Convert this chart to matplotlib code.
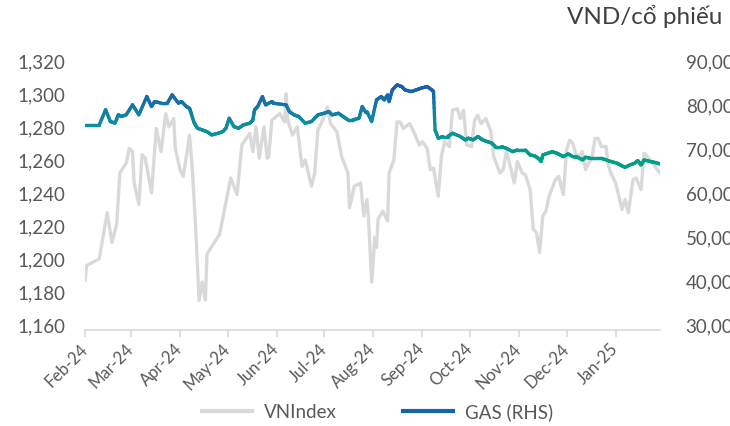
import numpy as np
import pandas as pd
import matplotlib
matplotlib.use('Agg')
import matplotlib.pyplot as plt
import matplotlib.dates as mdates
import matplotlib.transforms as mtrans
from matplotlib.collections import LineCollection
from matplotlib.colors import LinearSegmentedColormap
from matplotlib.lines import Line2D
from matplotlib.ticker import FuncFormatter

plt.rcParams['font.family'] = ['Lato', 'DejaVu Sans']

# ==========================================
# DATA (doc tu hinh)
# ==========================================
vn_dates = ['2024-02-01', '2024-02-02', '2024-02-10', '2024-02-15', '2024-02-18', '2024-02-21',
            '2024-02-23', '2024-02-27', '2024-02-29', '2024-03-02', '2024-03-03', '2024-03-06',
            '2024-03-08', '2024-03-10', '2024-03-14', '2024-03-17', '2024-03-20', '2024-03-23',
            '2024-03-25', '2024-03-28', '2024-03-29', '2024-04-01', '2024-04-03', '2024-04-05',
            '2024-04-07', '2024-04-09', '2024-04-11', '2024-04-13', '2024-04-15', '2024-04-17',
            '2024-04-18', '2024-04-22', '2024-04-26', '2024-05-03', '2024-05-07', '2024-05-10',
            '2024-05-15', '2024-05-17', '2024-05-19', '2024-05-21', '2024-05-24', '2024-05-26',
            '2024-05-27', '2024-05-29', '2024-06-03', '2024-06-06', '2024-06-07', '2024-06-08',
            '2024-06-11', '2024-06-14', '2024-06-17', '2024-06-19', '2024-06-23', '2024-06-25',
            '2024-06-27', '2024-06-30', '2024-07-03', '2024-07-05', '2024-07-09', '2024-07-12',
            '2024-07-16', '2024-07-17', '2024-07-20', '2024-07-24', '2024-07-26', '2024-07-28',
            '2024-07-29', '2024-07-31', '2024-08-02', '2024-08-03', '2024-08-04', '2024-08-07',
            '2024-08-10', '2024-08-11', '2024-08-14', '2024-08-16', '2024-08-18', '2024-08-20',
            '2024-08-24', '2024-08-27', '2024-08-30', '2024-09-01', '2024-09-04', '2024-09-06',
            '2024-09-08', '2024-09-11', '2024-09-13', '2024-09-15', '2024-09-18', '2024-09-20',
            '2024-09-23', '2024-09-25', '2024-09-27', '2024-09-29', '2024-10-02', '2024-10-04',
            '2024-10-06', '2024-10-08', '2024-10-11', '2024-10-14', '2024-10-16', '2024-10-20',
            '2024-10-22', '2024-10-24', '2024-10-26', '2024-10-29', '2024-10-31', '2024-11-03',
            '2024-11-05', '2024-11-08', '2024-11-10', '2024-11-12', '2024-11-14', '2024-11-16',
            '2024-11-18', '2024-11-20', '2024-11-24', '2024-11-26', '2024-11-29', '2024-12-01',
            '2024-12-03', '2024-12-05', '2024-12-07', '2024-12-10', '2024-12-11', '2024-12-13',
            '2024-12-15', '2024-12-17', '2024-12-19', '2024-12-21', '2024-12-23', '2024-12-26',
            '2024-12-27', '2024-12-29', '2025-01-01', '2025-01-05', '2025-01-07', '2025-01-09',
            '2025-01-12', '2025-01-14', '2025-01-17', '2025-01-19', '2025-01-22', '2025-01-25',
            '2025-01-29']
vnindex = [1190, 1199, 1203, 1231, 1213, 1224,
           1255, 1261, 1270, 1268, 1249, 1236,
           1266, 1264, 1243, 1282, 1268, 1291,
           1283, 1288, 1270, 1257, 1253, 1265,
           1278, 1254, 1219, 1178, 1189, 1178,
           1206, 1212, 1218, 1252, 1242, 1272,
           1279, 1268, 1283, 1264, 1283, 1264,
           1265, 1287, 1291, 1286, 1303, 1287,
           1278, 1283, 1259, 1263, 1247, 1255,
           1281, 1287, 1295, 1285, 1280, 1265,
           1255, 1234, 1247, 1249, 1229, 1239,
           1227, 1189, 1216, 1210, 1227, 1232,
           1226, 1255, 1263, 1286, 1286, 1282,
           1285, 1279, 1272, 1274, 1270, 1257,
           1258, 1241, 1265, 1274, 1271, 1293,
           1294, 1288, 1293, 1272, 1271, 1287,
           1290, 1285, 1288, 1281, 1265, 1255,
           1257, 1268, 1261, 1249, 1262, 1255,
           1254, 1245, 1221, 1219, 1207, 1229,
           1232, 1241, 1251, 1253, 1242, 1269,
           1275, 1273, 1266, 1266, 1268, 1257,
           1261, 1264, 1276, 1276, 1271, 1271,
           1261, 1255, 1249, 1233, 1239, 1231,
           1251, 1252, 1245, 1267, 1264, 1260,
           1255]

gas_dates = ['2024-02-01', '2024-02-10', '2024-02-14', '2024-02-17', '2024-02-20', '2024-02-22',
             '2024-02-24', '2024-02-27', '2024-03-02', '2024-03-06', '2024-03-11', '2024-03-14',
             '2024-03-16', '2024-03-20', '2024-03-24', '2024-03-27', '2024-03-31', '2024-04-02',
             '2024-04-05', '2024-04-07', '2024-04-08', '2024-04-10', '2024-04-12', '2024-04-15',
             '2024-04-18', '2024-04-21', '2024-04-25', '2024-04-28', '2024-04-30', '2024-05-02',
             '2024-05-05', '2024-05-08', '2024-05-11', '2024-05-15', '2024-05-17', '2024-05-18',
             '2024-05-20', '2024-05-23', '2024-05-25', '2024-05-29', '2024-05-30', '2024-06-07',
             '2024-06-09', '2024-06-12', '2024-06-15', '2024-06-19', '2024-06-23', '2024-06-27',
             '2024-07-01', '2024-07-04', '2024-07-06', '2024-07-10', '2024-07-13', '2024-07-16',
             '2024-07-19', '2024-07-23', '2024-07-25', '2024-07-27', '2024-07-28', '2024-07-31',
             '2024-08-03', '2024-08-06', '2024-08-08', '2024-08-10', '2024-08-11', '2024-08-13',
             '2024-08-16', '2024-08-19', '2024-08-21', '2024-08-25', '2024-08-28', '2024-08-31',
             '2024-09-04', '2024-09-07', '2024-09-08', '2024-09-09', '2024-09-11', '2024-09-14',
             '2024-09-17', '2024-09-20', '2024-09-25', '2024-09-28', '2024-09-30', '2024-10-03',
             '2024-10-06', '2024-10-09', '2024-10-12', '2024-10-15', '2024-10-17', '2024-10-21',
             '2024-10-24', '2024-10-28', '2024-10-31', '2024-11-05', '2024-11-08', '2024-11-11',
             '2024-11-13', '2024-11-15', '2024-11-16', '2024-11-19', '2024-11-22', '2024-11-25',
             '2024-11-27', '2024-11-29', '2024-12-02', '2024-12-05', '2024-12-08', '2024-12-11',
             '2024-12-13', '2024-12-16', '2024-12-23', '2024-12-26', '2024-12-29', '2025-01-02',
             '2025-01-05', '2025-01-07', '2025-01-10', '2025-01-13', '2025-01-15', '2025-01-17',
             '2025-01-19', '2025-01-23', '2025-01-26', '2025-01-29']
gas = [76560, 76560, 80000, 77330, 76970, 78850,
       78470, 78850, 81120, 78850, 83010, 80740,
       81870, 81500, 81500, 83390, 81500, 81850,
       80710, 80350, 79210, 76940, 75800, 75420,
       75030, 74280, 74670, 75030, 75800, 78080,
       76170, 75800, 76560, 76940, 77690, 79960,
       80710, 82990, 81100, 81850, 81480, 81100,
       79580, 78830, 78450, 76940, 77320, 78830,
       79210, 79580, 78830, 79210, 78450, 77690,
       77690, 78080, 80710, 79580, 79580, 77320,
       82230, 82990, 82230, 83370, 81850, 84500,
       85640, 85260, 84500, 84120, 84500, 84880,
       85260, 84500, 84120, 75420, 73540, 73920,
       73920, 74670, 73920, 73150, 73540, 73150,
       73920, 73150, 72770, 72390, 71630, 71630,
       71250, 70490, 70880, 70880, 69740, 69520,
       69000, 68240, 69740, 70110, 70490, 70110,
       69740, 69360, 69970, 69360, 69220, 68610,
       69220, 68980, 68980, 68610, 68240, 67860,
       67250, 66950, 67470, 67860, 68450, 67470,
       68610, 68240, 68010, 67700]

left_ticks = [1160, 1180, 1200, 1220, 1240, 1260, 1280, 1300, 1320]
right_ticks = [30000, 40000, 50000, 60000, 70000, 80000, 90000]

# ==========================================
# STYLE
# ==========================================
TXT = '#595959'
AXIS = '#d9d9d9'
VN_COLOR = '#d9d9d9'
GAS_LOW = '#00a286'
GAS_HIGH = '#1a5cad'

vn_x = mdates.date2num(pd.to_datetime(vn_dates))
gas_x = mdates.date2num(pd.to_datetime(gas_dates))

fig = plt.figure(figsize=(7.3, 4.26), dpi=100)
ax = fig.add_axes([85 / 730, 96 / 426, 575 / 730, 264.3 / 426])
ax2 = ax.twinx()

ax.plot(vn_x, vnindex, color=VN_COLOR, linewidth=2.4, solid_joinstyle='round')

# Duong GAS voi mau gradient theo gia tri
sub_x, sub_y = [], []
for i in range(len(gas_x) - 1):
    sub_x.append(np.linspace(gas_x[i], gas_x[i + 1], 8)[:-1])
    sub_y.append(np.linspace(gas[i], gas[i + 1], 8)[:-1])
sub_x.append([gas_x[-1]])
sub_y.append([gas[-1]])
sx = np.concatenate(sub_x)
sy = np.concatenate(sub_y)
pts = np.column_stack([sx, sy]).reshape(-1, 1, 2)
segs = np.concatenate([pts[:-1], pts[1:]], axis=1)
cmap = LinearSegmentedColormap.from_list('gas', [GAS_LOW, '#0e8ea0', GAS_HIGH])
lc = LineCollection(segs, cmap=cmap, norm=plt.Normalize(68000, 85500),
                    linewidth=2.4, capstyle='round', joinstyle='round')
lc.set_array((sy[:-1] + sy[1:]) / 2)
ax2.add_collection(lc)

# Truc
ax.set_xlim(vn_x[0], vn_x[-1])
ax.set_ylim(1160, 1320)
ax2.set_ylim(30000, 90000)
ax.set_yticks(left_ticks)
ax2.set_yticks(right_ticks)
ax.yaxis.set_major_formatter(FuncFormatter(lambda v, p: f'{v:,.0f}'))
ax2.yaxis.set_major_formatter(FuncFormatter(lambda v, p: f'{v:,.0f}'))

ax.xaxis.set_major_locator(mdates.MonthLocator())
ax.xaxis.set_major_formatter(mdates.DateFormatter('%b-%y'))

for a in (ax, ax2):
    for s in ('top', 'left', 'right', 'bottom'):
        a.spines[s].set_visible(False)
ax.spines['bottom'].set_visible(True)
ax.spines['bottom'].set_color(AXIS)
ax.spines['bottom'].set_linewidth(1.2)

ax.tick_params(axis='x', length=5, width=1.2, color=AXIS, labelcolor=TXT, labelsize=12, pad=7)
ax.tick_params(axis='y', length=0, labelcolor=TXT, labelsize=13.5, pad=14)
ax2.tick_params(axis='y', length=0, labelcolor=TXT, labelsize=13.5, pad=18.5)

for lbl in ax.get_xticklabels():
    lbl.set_rotation(45)
    lbl.set_ha('right')
    lbl.set_va('center')
    lbl.set_rotation_mode('anchor')

# nhan truc y hoi cao hon duong luoi mot chut
up = mtrans.ScaledTranslation(0, 0.045, fig.dpi_scale_trans)
for lbl in ax.get_yticklabels() + ax2.get_yticklabels():
    lbl.set_transform(lbl.get_transform() + up)

fig.text(567 / 730, 1 - 17 / 426, 'VND/cổ phiếu', ha='left', va='center',
         fontsize=17.5, color='#404040')

handles = [Line2D([], [], color=VN_COLOR, linewidth=3),
           Line2D([], [], color='#1466a8', linewidth=3)]
fig.legend(handles, ['VNIndex', 'GAS (RHS)'], loc='center', ncol=2,
           bbox_to_anchor=(0.517, 1 - 412 / 426), frameon=False, fontsize=13.5,
           handlelength=2.67, handletextpad=0.64, columnspacing=3.5, labelcolor=TXT)

fig.savefig('out.png', dpi=100)
